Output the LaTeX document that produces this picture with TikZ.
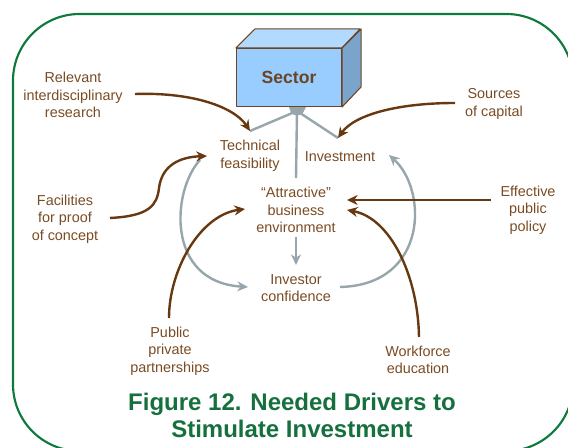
\documentclass[tikz,border=0pt]{standalone}
\usepackage{fontspec}
\setmainfont{Liberation Sans}
\usetikzlibrary{arrows.meta}
\definecolor{txtbrown}{RGB}{122,75,34}
\definecolor{arrbrown}{RGB}{104,56,16}
\definecolor{linkgrey}{RGB}{150,166,170}
\definecolor{framegreen}{RGB}{16,122,60}
\definecolor{titlegreen}{RGB}{22,112,62}
\definecolor{boxfront}{RGB}{153,204,255}
\definecolor{boxtop}{RGB}{178,218,255}
\definecolor{boxside}{RGB}{122,164,204}
\definecolor{boxedge}{RGB}{107,68,35}
\begin{document}
\begin{tikzpicture}[x=0.75pt,y=-0.75pt,
  lbl/.style={text=txtbrown, align=center, inner sep=0pt,
    font=\fontsize{10.8}{13.1}\selectfont},
  drive/.style={draw=arrbrown, line width=1.8pt,
    -{Stealth[length=8pt,width=7.5pt]}},
  link/.style={draw=linkgrey, line width=1.8pt,
    -{Stealth[length=8pt,width=7.5pt]}},
  spoke/.style={draw=linkgrey, line width=1.8pt},
  cubeface/.style={draw=boxedge, line width=0.8pt, line join=round},
]
\useasboundingbox (0,0) rectangle (568,448);
\clip (0,0) rectangle (568,448);

% frame
\draw[framegreen, line width=1.6pt, rounded corners=50pt] (13,14) rectangle (573,451);

% connector ends
\coordinate (hub)      at (297,111);
\coordinate (techTop)  at (250,131);
\coordinate (attrTop)  at (296,178);
\coordinate (invTop)   at (338,138);
\coordinate (relEnd)   at (135,94);
\coordinate (srcEnd)   at (455,103);
\coordinate (facEnd)   at (110,218);
\coordinate (pppEnd)   at (169,318);
\coordinate (wfEnd)    at (419,337);
\coordinate (effEnd)   at (491,200);
\coordinate (techIn)   at (207,156);
\coordinate (attrInL)  at (245,209);
\coordinate (attrInR1) at (347,200);
\coordinate (attrInR2) at (347,210);
\coordinate (techOut)  at (200,160);
\coordinate (confInL)  at (248,287);
\coordinate (confOutR) at (340,287);
\coordinate (invInR)   at (389,155);
\coordinate (attrBot)  at (296,237);
\coordinate (confTop)  at (296,265);

% grey spokes meeting under the sector
\draw[spoke] (techTop) -- (hub);
\draw[spoke] (attrTop) -- (hub);
\draw[spoke] (invTop) -- (hub);
\fill[linkgrey] (289,107) -- (306,107) -- (303,113) .. controls (300,116) and (294,116) .. (291,113) -- cycle;

% sector cube
\node[cubeface, fill=boxfront, minimum width=78.75pt, minimum height=43.5pt,
      inner sep=0pt, text=boxedge, font=\fontsize{13.2}{15}\bfseries\selectfont]
  (sector) at (289,77.5) {Sector};
\draw[cubeface, fill=boxtop] (sector.north west) -- ++(19,-19) -- ++(105,0)
  -- (sector.north east) -- cycle;
\draw[cubeface, fill=boxside] (sector.north east) -- ++(19,-19) -- ++(0,58)
  -- (sector.south east) -- cycle;

% labels
\node[lbl] (rel)  at (73,95)   {Relevant\\interdisciplinary\\research};
\node[lbl] (tech) at (250,156) {Technical\\feasibility};
\node[lbl] (inv)  at (340,157) {Investment};
\node[lbl] (attr) at (296,210) {“Attractive”\\business\\environment};
\node[lbl] (conf) at (296,288) {Investor\\confidence};
\node[lbl] (src)  at (494,104) {Sources\\of capital};
\node[lbl] (eff)  at (528,210) {Effective\\public\\policy};
\node[lbl] (fac)  at (65,219)  {Facilities\\for proof\\of concept};
\node[lbl] (ppp)  at (170,351) {Public\\private\\partnerships};
\node[lbl] (wf)   at (418,360) {Workforce\\education};

\node[text=titlegreen, align=center, inner sep=0pt,
      font=\fontsize{18}{20.3}\bfseries\selectfont]
  (title) at (292,415) {Figure 12. Needed Drivers to\\Stimulate Investment};

% grey feedback loop
\draw[link] (attrBot) -- (confTop);
\draw[link] (techOut) .. controls (172,190) and (165,282) .. (confInL);
\draw[link] (confOutR) .. controls (428,285) and (428,190) .. (invInR);

% brown drivers
\draw[drive] (relEnd) .. controls (195,92) and (235,108) .. (techTop);
\draw[drive] (srcEnd) .. controls (400,103) and (355,114) .. (invTop);
\draw[drive] (facEnd) .. controls (150,216) and (157,205) .. (159,188)
  .. controls (162,165) and (180,157) .. (techIn);
\draw[drive] (pppEnd) .. controls (169,270) and (200,215) .. (attrInL);
\draw[drive] (effEnd) -- (attrInR1);
\draw[drive] (wfEnd) .. controls (418,275) and (390,218) .. (attrInR2);
\end{tikzpicture}
\end{document}
